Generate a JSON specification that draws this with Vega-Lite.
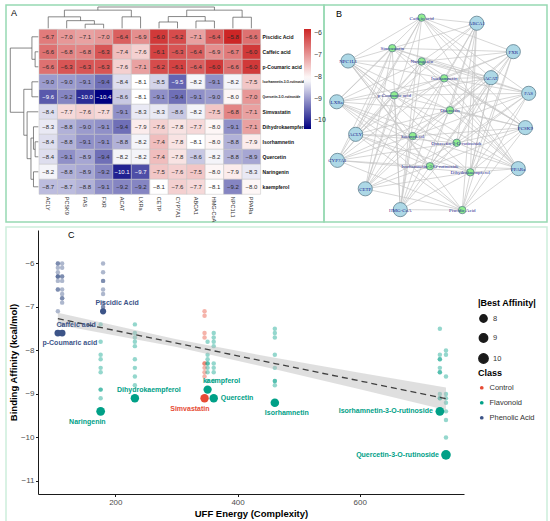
{
  "$schema": "https://vega.github.io/schema/vega-lite/v6.json",
  "padding": {"left": 5, "top": 4, "right": 0, "bottom": 0},
  "background": "white",
  "spacing": 3,
  "config": {
    "font": "Liberation Sans",
    "view": {"stroke": "#97d9b2", "strokeWidth": 1.5},
    "title": {"fontSize": 9, "fontWeight": "normal", "color": "#000", "anchor": "start", "frame": "group"}
  },
  "datasets": {
    "heat": [
      {"compound": "Piscidic Acid", "ACLY": -6.7, "PCSK9": -7.0, "FAS": -7.1, "FXR": -7.0, "ACAT": -6.4, "LXRa": -6.9, "CETP": -6.0, "CYP7A1": -6.2, "ABCA1": -7.1, "HMG-CoA": -6.4, "NPC1L1": -5.8, "PPARa": -6.6},
      {"compound": "Caffeic acid", "ACLY": -6.6, "PCSK9": -6.8, "FAS": -6.8, "FXR": -6.3, "ACAT": -7.4, "LXRa": -7.6, "CETP": -6.1, "CYP7A1": -6.3, "ABCA1": -6.4, "HMG-CoA": -6.9, "NPC1L1": -6.7, "PPARa": -6.0},
      {"compound": "p-Coumaric acid", "ACLY": -6.6, "PCSK9": -6.3, "FAS": -6.3, "FXR": -6.3, "ACAT": -7.6, "LXRa": -7.1, "CETP": -6.2, "CYP7A1": -6.1, "ABCA1": -6.4, "HMG-CoA": -6.0, "NPC1L1": -6.6, "PPARa": -6.0},
      {"compound": "Isorhamnetin-3-O-rutinoside", "ACLY": -9.0, "PCSK9": -9.0, "FAS": -9.1, "FXR": -9.4, "ACAT": -8.4, "LXRa": -8.1, "CETP": -8.5, "CYP7A1": -9.5, "ABCA1": -8.2, "HMG-CoA": -9.1, "NPC1L1": -8.2, "PPARa": -7.5},
      {"compound": "Quercetin-3-O-rutinoside", "ACLY": -9.6, "PCSK9": -9.2, "FAS": -10.0, "FXR": -10.4, "ACAT": -8.6, "LXRa": -8.1, "CETP": -9.1, "CYP7A1": -9.4, "ABCA1": -9.1, "HMG-CoA": -9.0, "NPC1L1": -8.0, "PPARa": -7.0},
      {"compound": "Simvastatin", "ACLY": -8.4, "PCSK9": -7.7, "FAS": -7.6, "FXR": -7.7, "ACAT": -9.1, "LXRa": -8.3, "CETP": -8.3, "CYP7A1": -8.6, "ABCA1": -8.2, "HMG-CoA": -7.5, "NPC1L1": -6.8, "PPARa": -7.1},
      {"compound": "Dihydrokaempferol", "ACLY": -8.3, "PCSK9": -8.8, "FAS": -9.0, "FXR": -9.1, "ACAT": -9.4, "LXRa": -7.9, "CETP": -7.6, "CYP7A1": -7.8, "ABCA1": -7.7, "HMG-CoA": -8.0, "NPC1L1": -9.1, "PPARa": -7.1},
      {"compound": "Isorhamnetin", "ACLY": -8.4, "PCSK9": -8.8, "FAS": -9.1, "FXR": -9.1, "ACAT": -8.8, "LXRa": -8.2, "CETP": -7.4, "CYP7A1": -7.8, "ABCA1": -8.1, "HMG-CoA": -8.0, "NPC1L1": -8.8, "PPARa": -7.9},
      {"compound": "Quercetin", "ACLY": -8.4, "PCSK9": -9.1, "FAS": -8.9, "FXR": -9.4, "ACAT": -8.2, "LXRa": -8.2, "CETP": -7.4, "CYP7A1": -7.8, "ABCA1": -8.6, "HMG-CoA": -8.2, "NPC1L1": -8.8, "PPARa": -8.9},
      {"compound": "Naringenin", "ACLY": -8.2, "PCSK9": -8.8, "FAS": -8.9, "FXR": -9.2, "ACAT": -10.1, "LXRa": -9.7, "CETP": -7.5, "CYP7A1": -7.6, "ABCA1": -7.5, "HMG-CoA": -8.0, "NPC1L1": -7.9, "PPARa": -8.3},
      {"compound": "kaempferol", "ACLY": -8.7, "PCSK9": -8.7, "FAS": -8.8, "FXR": -9.1, "ACAT": -9.2, "LXRa": -9.2, "CETP": -8.1, "CYP7A1": -7.6, "ABCA1": -7.7, "HMG-CoA": -8.1, "NPC1L1": -9.2, "PPARa": -8.0}
    ],
    "dendTop": [
      {"x": 2, "x2": 2, "y": 0, "y2": 4.3}, {"x": 3, "x2": 3, "y": 0, "y2": 4.3}, {"x": 2, "x2": 3, "y": 4.3, "y2": 4.3},
      {"x": 1, "x2": 1, "y": 0, "y2": 8}, {"x": 2.5, "x2": 2.5, "y": 4.3, "y2": 8}, {"x": 1, "x2": 2.5, "y": 8, "y2": 8},
      {"x": 0, "x2": 0, "y": 0, "y2": 12}, {"x": 1.75, "x2": 1.75, "y": 8, "y2": 12}, {"x": 0, "x2": 1.75, "y": 12, "y2": 12},
      {"x": 4, "x2": 4, "y": 0, "y2": 12}, {"x": 5, "x2": 5, "y": 0, "y2": 12}, {"x": 4, "x2": 5, "y": 12, "y2": 12},
      {"x": 0.875, "x2": 0.875, "y": 12, "y2": 19}, {"x": 4.5, "x2": 4.5, "y": 12, "y2": 19}, {"x": 0.875, "x2": 4.5, "y": 19, "y2": 19},
      {"x": 6, "x2": 6, "y": 0, "y2": 6.6}, {"x": 7, "x2": 7, "y": 0, "y2": 6.6}, {"x": 6, "x2": 7, "y": 6.6, "y2": 6.6},
      {"x": 8, "x2": 8, "y": 0, "y2": 7.6}, {"x": 9, "x2": 9, "y": 0, "y2": 7.6}, {"x": 8, "x2": 9, "y": 7.6, "y2": 7.6},
      {"x": 6.5, "x2": 6.5, "y": 6.6, "y2": 12.3}, {"x": 8.5, "x2": 8.5, "y": 7.6, "y2": 12.3}, {"x": 6.5, "x2": 8.5, "y": 12.3, "y2": 12.3},
      {"x": 10, "x2": 10, "y": 0, "y2": 11.6}, {"x": 11, "x2": 11, "y": 0, "y2": 11.6}, {"x": 10, "x2": 11, "y": 11.6, "y2": 11.6},
      {"x": 7.5, "x2": 7.5, "y": 12.3, "y2": 19}, {"x": 10.5, "x2": 10.5, "y": 11.6, "y2": 19}, {"x": 7.5, "x2": 10.5, "y": 19, "y2": 19},
      {"x": 2.6875, "x2": 2.6875, "y": 19, "y2": 22.3}, {"x": 9, "x2": 9, "y": 19, "y2": 22.3}, {"x": 2.6875, "x2": 9, "y": 22.3, "y2": 22.3}
    ],
    "dendLeft": [
      {"x": 0, "x2": 3.3, "y": 1, "y2": 1}, {"x": 0, "x2": 3.3, "y": 2, "y2": 2}, {"x": 3.3, "x2": 3.3, "y": 1, "y2": 2},
      {"x": 0, "x2": 6.6, "y": 0, "y2": 0}, {"x": 3.3, "x2": 6.6, "y": 1.5, "y2": 1.5}, {"x": 6.6, "x2": 6.6, "y": 0, "y2": 1.5},
      {"x": 0, "x2": 6.6, "y": 3, "y2": 3}, {"x": 0, "x2": 6.6, "y": 4, "y2": 4}, {"x": 6.6, "x2": 6.6, "y": 3, "y2": 4},
      {"x": 0, "x2": 3.3, "y": 7, "y2": 7}, {"x": 0, "x2": 3.3, "y": 8, "y2": 8}, {"x": 3.3, "x2": 3.3, "y": 7, "y2": 8},
      {"x": 0, "x2": 5, "y": 6, "y2": 6}, {"x": 3.3, "x2": 5, "y": 7.5, "y2": 7.5}, {"x": 5, "x2": 5, "y": 6, "y2": 7.5},
      {"x": 0, "x2": 5, "y": 9, "y2": 9}, {"x": 0, "x2": 5, "y": 10, "y2": 10}, {"x": 5, "x2": 5, "y": 9, "y2": 10},
      {"x": 5, "x2": 7.6, "y": 6.75, "y2": 6.75}, {"x": 5, "x2": 7.6, "y": 9.5, "y2": 9.5}, {"x": 7.6, "x2": 7.6, "y": 6.75, "y2": 9.5},
      {"x": 0, "x2": 11.6, "y": 5, "y2": 5}, {"x": 7.6, "x2": 11.6, "y": 8.125, "y2": 8.125}, {"x": 11.6, "x2": 11.6, "y": 5, "y2": 8.125},
      {"x": 6.6, "x2": 15, "y": 3.5, "y2": 3.5}, {"x": 11.6, "x2": 15, "y": 6.5625, "y2": 6.5625}, {"x": 15, "x2": 15, "y": 3.5, "y2": 6.5625},
      {"x": 6.6, "x2": 29, "y": 0.75, "y2": 0.75}, {"x": 15, "x2": 29, "y": 5.03125, "y2": 5.03125}, {"x": 29, "x2": 29, "y": 0.75, "y2": 5.03125}
    ],
    "nodes": [
      {"name": "ABCA1", "kind": "target", "x": 68.5, "y": 91.6},
      {"name": "FXR", "kind": "target", "x": 84.9, "y": 78.5},
      {"name": "ACAT", "kind": "target", "x": 74.9, "y": 66.5},
      {"name": "FAS", "kind": "target", "x": 91.8, "y": 59.3},
      {"name": "PCSK9", "kind": "target", "x": 90.3, "y": 43.5},
      {"name": "PPARa", "kind": "target", "x": 87.1, "y": 24.6},
      {"name": "NPC1L1", "kind": "target", "x": 10.8, "y": 74.2},
      {"name": "LXRa", "kind": "target", "x": 5.7, "y": 55.4},
      {"name": "ACLY", "kind": "target", "x": 14.2, "y": 40.4},
      {"name": "CYP7A1", "kind": "target", "x": 6.0, "y": 28.4},
      {"name": "CETP", "kind": "target", "x": 18.5, "y": 15.3},
      {"name": "HMG-CoA", "kind": "target", "x": 34.2, "y": 5.7},
      {"name": "Caffeic acid", "kind": "compound", "x": 43.8, "y": 94.2},
      {"name": "Simvastatin", "kind": "compound", "x": 30.6, "y": 80.1},
      {"name": "Naringenin", "kind": "compound", "x": 43.8, "y": 74.0},
      {"name": "Isorhamnetin", "kind": "compound", "x": 53.9, "y": 66.2},
      {"name": "p-Coumaric acid", "kind": "compound", "x": 31.5, "y": 58.4},
      {"name": "Quercetin", "kind": "compound", "x": 56.5, "y": 51.5},
      {"name": "kaempferol", "kind": "compound", "x": 39.8, "y": 39.6},
      {"name": "Quercetin-3-O-rutinoside", "kind": "compound", "x": 59.5, "y": 36.5},
      {"name": "Isorhamnetin-3-O-rutinoside", "kind": "compound", "x": 47.5, "y": 25.7},
      {"name": "Dihydrokaempferol", "kind": "compound", "x": 65.6, "y": 22.9},
      {"name": "Piscidic Acid", "kind": "compound", "x": 62.0, "y": 5.5}
    ],
    "pts": [
      {"compound": "p-Coumaric acid", "class": "Phenolic Acid", "uff": 106, "affinity": -6.6},
      {"compound": "p-Coumaric acid", "class": "Phenolic Acid", "uff": 106, "affinity": -6.3},
      {"compound": "p-Coumaric acid", "class": "Phenolic Acid", "uff": 106, "affinity": -6.3},
      {"compound": "p-Coumaric acid", "class": "Phenolic Acid", "uff": 106, "affinity": -6.3},
      {"compound": "p-Coumaric acid", "class": "Phenolic Acid", "uff": 106, "affinity": -7.6},
      {"compound": "p-Coumaric acid", "class": "Phenolic Acid", "uff": 106, "affinity": -7.1},
      {"compound": "p-Coumaric acid", "class": "Phenolic Acid", "uff": 106, "affinity": -6.2},
      {"compound": "p-Coumaric acid", "class": "Phenolic Acid", "uff": 106, "affinity": -6.1},
      {"compound": "p-Coumaric acid", "class": "Phenolic Acid", "uff": 106, "affinity": -6.4},
      {"compound": "p-Coumaric acid", "class": "Phenolic Acid", "uff": 106, "affinity": -6.0},
      {"compound": "p-Coumaric acid", "class": "Phenolic Acid", "uff": 106, "affinity": -6.6},
      {"compound": "p-Coumaric acid", "class": "Phenolic Acid", "uff": 106, "affinity": -6.0},
      {"compound": "Caffeic acid", "class": "Phenolic Acid", "uff": 113, "affinity": -6.6},
      {"compound": "Caffeic acid", "class": "Phenolic Acid", "uff": 113, "affinity": -6.8},
      {"compound": "Caffeic acid", "class": "Phenolic Acid", "uff": 113, "affinity": -6.8},
      {"compound": "Caffeic acid", "class": "Phenolic Acid", "uff": 113, "affinity": -6.3},
      {"compound": "Caffeic acid", "class": "Phenolic Acid", "uff": 113, "affinity": -7.4},
      {"compound": "Caffeic acid", "class": "Phenolic Acid", "uff": 113, "affinity": -7.6},
      {"compound": "Caffeic acid", "class": "Phenolic Acid", "uff": 113, "affinity": -6.1},
      {"compound": "Caffeic acid", "class": "Phenolic Acid", "uff": 113, "affinity": -6.3},
      {"compound": "Caffeic acid", "class": "Phenolic Acid", "uff": 113, "affinity": -6.4},
      {"compound": "Caffeic acid", "class": "Phenolic Acid", "uff": 113, "affinity": -6.9},
      {"compound": "Caffeic acid", "class": "Phenolic Acid", "uff": 113, "affinity": -6.7},
      {"compound": "Caffeic acid", "class": "Phenolic Acid", "uff": 113, "affinity": -6.0},
      {"compound": "Piscidic Acid", "class": "Phenolic Acid", "uff": 180, "affinity": -6.0},
      {"compound": "Piscidic Acid", "class": "Phenolic Acid", "uff": 180, "affinity": -6.2},
      {"compound": "Piscidic Acid", "class": "Phenolic Acid", "uff": 180, "affinity": -6.4},
      {"compound": "Piscidic Acid", "class": "Phenolic Acid", "uff": 180, "affinity": -6.4},
      {"compound": "Piscidic Acid", "class": "Phenolic Acid", "uff": 180, "affinity": -6.6},
      {"compound": "Piscidic Acid", "class": "Phenolic Acid", "uff": 180, "affinity": -6.7},
      {"compound": "Piscidic Acid", "class": "Phenolic Acid", "uff": 180, "affinity": -6.9},
      {"compound": "Piscidic Acid", "class": "Phenolic Acid", "uff": 180, "affinity": -7.0},
      {"compound": "Piscidic Acid", "class": "Phenolic Acid", "uff": 180, "affinity": -7.0},
      {"compound": "Piscidic Acid", "class": "Phenolic Acid", "uff": 180, "affinity": -7.1},
      {"compound": "Naringenin", "class": "Flavonoid", "uff": 176, "affinity": -7.4},
      {"compound": "Naringenin", "class": "Flavonoid", "uff": 176, "affinity": -7.8},
      {"compound": "Naringenin", "class": "Flavonoid", "uff": 176, "affinity": -8.1},
      {"compound": "Naringenin", "class": "Flavonoid", "uff": 176, "affinity": -8.2},
      {"compound": "Naringenin", "class": "Flavonoid", "uff": 176, "affinity": -8.4},
      {"compound": "Naringenin", "class": "Flavonoid", "uff": 176, "affinity": -8.5},
      {"compound": "Naringenin", "class": "Flavonoid", "uff": 176, "affinity": -8.9},
      {"compound": "Naringenin", "class": "Flavonoid", "uff": 176, "affinity": -8.9},
      {"compound": "Naringenin", "class": "Flavonoid", "uff": 176, "affinity": -9.1},
      {"compound": "Dihydrokaempferol", "class": "Flavonoid", "uff": 232, "affinity": -7.4},
      {"compound": "Dihydrokaempferol", "class": "Flavonoid", "uff": 232, "affinity": -7.6},
      {"compound": "Dihydrokaempferol", "class": "Flavonoid", "uff": 232, "affinity": -7.7},
      {"compound": "Dihydrokaempferol", "class": "Flavonoid", "uff": 232, "affinity": -7.8},
      {"compound": "Dihydrokaempferol", "class": "Flavonoid", "uff": 232, "affinity": -7.9},
      {"compound": "Dihydrokaempferol", "class": "Flavonoid", "uff": 232, "affinity": -8.2},
      {"compound": "Dihydrokaempferol", "class": "Flavonoid", "uff": 232, "affinity": -8.4},
      {"compound": "Dihydrokaempferol", "class": "Flavonoid", "uff": 232, "affinity": -8.6},
      {"compound": "Dihydrokaempferol", "class": "Flavonoid", "uff": 232, "affinity": -8.8},
      {"compound": "Simvastatin", "class": "Control", "uff": 346, "affinity": -7.1},
      {"compound": "Simvastatin", "class": "Control", "uff": 346, "affinity": -7.2},
      {"compound": "Simvastatin", "class": "Control", "uff": 346, "affinity": -7.6},
      {"compound": "Simvastatin", "class": "Control", "uff": 346, "affinity": -7.7},
      {"compound": "Simvastatin", "class": "Control", "uff": 346, "affinity": -8.3},
      {"compound": "Simvastatin", "class": "Control", "uff": 346, "affinity": -8.3},
      {"compound": "Simvastatin", "class": "Control", "uff": 346, "affinity": -8.4},
      {"compound": "Simvastatin", "class": "Control", "uff": 346, "affinity": -8.5},
      {"compound": "Simvastatin", "class": "Control", "uff": 346, "affinity": -8.6},
      {"compound": "kaempferol", "class": "Flavonoid", "uff": 351, "affinity": -7.8},
      {"compound": "kaempferol", "class": "Flavonoid", "uff": 351, "affinity": -8.1},
      {"compound": "kaempferol", "class": "Flavonoid", "uff": 351, "affinity": -8.2},
      {"compound": "kaempferol", "class": "Flavonoid", "uff": 351, "affinity": -8.3},
      {"compound": "kaempferol", "class": "Flavonoid", "uff": 351, "affinity": -8.3},
      {"compound": "kaempferol", "class": "Flavonoid", "uff": 351, "affinity": -8.4},
      {"compound": "kaempferol", "class": "Flavonoid", "uff": 351, "affinity": -8.5},
      {"compound": "kaempferol", "class": "Flavonoid", "uff": 351, "affinity": -8.7},
      {"compound": "Quercetin", "class": "Flavonoid", "uff": 361, "affinity": -7.6},
      {"compound": "Quercetin", "class": "Flavonoid", "uff": 361, "affinity": -7.7},
      {"compound": "Quercetin", "class": "Flavonoid", "uff": 361, "affinity": -7.8},
      {"compound": "Quercetin", "class": "Flavonoid", "uff": 361, "affinity": -7.9},
      {"compound": "Quercetin", "class": "Flavonoid", "uff": 361, "affinity": -8.3},
      {"compound": "Quercetin", "class": "Flavonoid", "uff": 361, "affinity": -8.4},
      {"compound": "Quercetin", "class": "Flavonoid", "uff": 361, "affinity": -8.5},
      {"compound": "Quercetin", "class": "Flavonoid", "uff": 361, "affinity": -8.7},
      {"compound": "Isorhamnetin", "class": "Flavonoid", "uff": 461, "affinity": -7.5},
      {"compound": "Isorhamnetin", "class": "Flavonoid", "uff": 461, "affinity": -7.6},
      {"compound": "Isorhamnetin", "class": "Flavonoid", "uff": 461, "affinity": -7.7},
      {"compound": "Isorhamnetin", "class": "Flavonoid", "uff": 461, "affinity": -8.1},
      {"compound": "Isorhamnetin", "class": "Flavonoid", "uff": 461, "affinity": -8.4},
      {"compound": "Isorhamnetin", "class": "Flavonoid", "uff": 461, "affinity": -8.7},
      {"compound": "Isorhamnetin", "class": "Flavonoid", "uff": 461, "affinity": -8.7},
      {"compound": "Isorhamnetin", "class": "Flavonoid", "uff": 461, "affinity": -8.8},
      {"compound": "Isorhamnetin-3-O-rutinoside", "class": "Flavonoid", "uff": 731, "affinity": -7.5},
      {"compound": "Isorhamnetin-3-O-rutinoside", "class": "Flavonoid", "uff": 731, "affinity": -8.1},
      {"compound": "Isorhamnetin-3-O-rutinoside", "class": "Flavonoid", "uff": 731, "affinity": -8.2},
      {"compound": "Isorhamnetin-3-O-rutinoside", "class": "Flavonoid", "uff": 731, "affinity": -8.2},
      {"compound": "Isorhamnetin-3-O-rutinoside", "class": "Flavonoid", "uff": 731, "affinity": -8.4},
      {"compound": "Isorhamnetin-3-O-rutinoside", "class": "Flavonoid", "uff": 731, "affinity": -8.5},
      {"compound": "Isorhamnetin-3-O-rutinoside", "class": "Flavonoid", "uff": 731, "affinity": -8.5},
      {"compound": "Isorhamnetin-3-O-rutinoside", "class": "Flavonoid", "uff": 731, "affinity": -9.0},
      {"compound": "Isorhamnetin-3-O-rutinoside", "class": "Flavonoid", "uff": 731, "affinity": -9.1},
      {"compound": "Isorhamnetin-3-O-rutinoside", "class": "Flavonoid", "uff": 731, "affinity": -9.1},
      {"compound": "Quercetin-3-O-rutinoside", "class": "Flavonoid", "uff": 741, "affinity": -8.0},
      {"compound": "Quercetin-3-O-rutinoside", "class": "Flavonoid", "uff": 741, "affinity": -8.1},
      {"compound": "Quercetin-3-O-rutinoside", "class": "Flavonoid", "uff": 741, "affinity": -8.6},
      {"compound": "Quercetin-3-O-rutinoside", "class": "Flavonoid", "uff": 741, "affinity": -9.0},
      {"compound": "Quercetin-3-O-rutinoside", "class": "Flavonoid", "uff": 741, "affinity": -9.1},
      {"compound": "Quercetin-3-O-rutinoside", "class": "Flavonoid", "uff": 741, "affinity": -9.2},
      {"compound": "Quercetin-3-O-rutinoside", "class": "Flavonoid", "uff": 741, "affinity": -9.4},
      {"compound": "Quercetin-3-O-rutinoside", "class": "Flavonoid", "uff": 741, "affinity": -9.6},
      {"compound": "Quercetin-3-O-rutinoside", "class": "Flavonoid", "uff": 741, "affinity": -10.0}
    ],
    "best": [
      {"compound": "p-Coumaric acid", "class": "Phenolic Acid", "uff": 106, "best": -7.6, "absBest": 7.6},
      {"compound": "Caffeic acid", "class": "Phenolic Acid", "uff": 113, "best": -7.6, "absBest": 7.6},
      {"compound": "Piscidic Acid", "class": "Phenolic Acid", "uff": 180, "best": -7.1, "absBest": 7.1},
      {"compound": "Naringenin", "class": "Flavonoid", "uff": 176, "best": -9.4, "absBest": 9.4},
      {"compound": "Dihydrokaempferol", "class": "Flavonoid", "uff": 232, "best": -9.1, "absBest": 9.1},
      {"compound": "Simvastatin", "class": "Control", "uff": 346, "best": -9.1, "absBest": 9.1},
      {"compound": "kaempferol", "class": "Flavonoid", "uff": 351, "best": -8.9, "absBest": 8.9},
      {"compound": "Quercetin", "class": "Flavonoid", "uff": 361, "best": -9.1, "absBest": 9.1},
      {"compound": "Isorhamnetin", "class": "Flavonoid", "uff": 461, "best": -9.2, "absBest": 9.2},
      {"compound": "Isorhamnetin-3-O-rutinoside", "class": "Flavonoid", "uff": 731, "best": -9.4, "absBest": 9.4},
      {"compound": "Quercetin-3-O-rutinoside", "class": "Flavonoid", "uff": 741, "best": -10.4, "absBest": 10.4}
    ],
    "fit": [
      {"uff": 106, "fit": -7.27, "lo": -7.41, "hi": -7.13},
      {"uff": 300, "fit": -7.83, "lo": -7.92, "hi": -7.74},
      {"uff": 461, "fit": -8.30, "lo": -8.43, "hi": -8.17},
      {"uff": 600, "fit": -8.70, "lo": -8.89, "hi": -8.51},
      {"uff": 741, "fit": -9.11, "lo": -9.37, "hi": -8.85}
    ]
  },
  "vconcat": [
    {
      "hconcat": [
        {
          "width": 318,
          "height": 217,
          "title": {"text": "A", "offset": -13, "dx": 5},
          "layer": [
            {
              "data": {"name": "heat"},
              "transform": [{"fold": ["ACLY", "PCSK9", "FAS", "FXR", "ACAT", "LXRa", "CETP", "CYP7A1", "ABCA1", "HMG-CoA", "NPC1L1", "PPARa"], "as": ["target", "value"]}],
              "mark": {"type": "rect", "stroke": "#c4c4c4", "strokeWidth": 0.5},
              "encoding": {
                "x": {"field": "target", "type": "nominal", "sort": ["ACLY", "PCSK9", "FAS", "FXR", "ACAT", "LXRa", "CETP", "CYP7A1", "ABCA1", "HMG-CoA", "NPC1L1", "PPARa"],
                      "scale": {"range": [33, 254.6], "paddingInner": 0, "paddingOuter": 0},
                      "axis": {"orient": "bottom", "offset": -27.7, "title": null, "labelAngle": 90, "labelAlign": "left", "labelBaseline": "middle", "labelFontSize": 5.5, "labelColor": "#333", "labelPadding": 2, "ticks": false, "domain": false}},
                "y": {"field": "compound", "type": "nominal", "sort": ["Piscidic Acid", "Caffeic acid", "p-Coumaric acid", "Isorhamnetin-3-O-rutinoside", "Quercetin-3-O-rutinoside", "Simvastatin", "Dihydrokaempferol", "Isorhamnetin", "Quercetin", "Naringenin", "kaempferol"],
                      "scale": {"range": [24.3, 189.3], "paddingInner": 0, "paddingOuter": 0},
                      "axis": {"orient": "right", "offset": -63.4, "title": null, "labelFontSize": {"condition": {"test": "length(datum.label) > 20", "value": 3.2}, "value": 5}, "labelFontWeight": "bold", "labelColor": "#111", "labelPadding": 1.5, "ticks": false, "domain": false}},
                "color": {"field": "value", "type": "quantitative",
                          "scale": {"domain": [-10.4, -8.1, -5.8], "range": ["#000080", "#ffffff", "#cd2626"], "interpolate": "rgb"},
                          "legend": {"orient": "none", "legendX": 298, "legendY": 24, "title": null, "direction": "vertical", "gradientLength": 100, "gradientThickness": 7, "values": [-10, -9, -8, -7, -6], "labelFontSize": 7, "labelColor": "#333", "gradientStrokeWidth": 0, "labelOffset": 3}}
              }
            },
            {
              "data": {"name": "heat"},
              "transform": [{"fold": ["ACLY", "PCSK9", "FAS", "FXR", "ACAT", "LXRa", "CETP", "CYP7A1", "ABCA1", "HMG-CoA", "NPC1L1", "PPARa"], "as": ["target", "value"]}],
              "mark": {"type": "text", "fontSize": 6},
              "encoding": {
                "x": {"field": "target", "type": "nominal", "sort": ["ACLY", "PCSK9", "FAS", "FXR", "ACAT", "LXRa", "CETP", "CYP7A1", "ABCA1", "HMG-CoA", "NPC1L1", "PPARa"],
                      "scale": {"range": [33, 254.6], "paddingInner": 0, "paddingOuter": 0}, "axis": null},
                "y": {"field": "compound", "type": "nominal", "sort": ["Piscidic Acid", "Caffeic acid", "p-Coumaric acid", "Isorhamnetin-3-O-rutinoside", "Quercetin-3-O-rutinoside", "Simvastatin", "Dihydrokaempferol", "Isorhamnetin", "Quercetin", "Naringenin", "kaempferol"],
                      "scale": {"range": [24.3, 189.3], "paddingInner": 0, "paddingOuter": 0}, "axis": null},
                "text": {"field": "value", "type": "quantitative", "format": ".1f"},
                "color": {"condition": {"test": "datum.value <= -9.5", "value": "#ffffff"}, "value": "#2a2a2a"}
              }
            },
            {
              "data": {"name": "dendTop"},
              "mark": {"type": "rule", "color": "#555555", "strokeWidth": 0.7},
              "encoding": {
                "x": {"field": "x", "type": "quantitative", "scale": {"domain": [-0.5, 11.5], "range": [33, 254.6], "nice": false, "zero": false}, "axis": null},
                "x2": {"field": "x2"},
                "y": {"field": "y", "type": "quantitative", "scale": {"domain": [0, 22.3], "range": [23.3, 2], "nice": false, "zero": false}, "axis": null},
                "y2": {"field": "y2"}
              }
            },
            {
              "data": {"name": "dendLeft"},
              "mark": {"type": "rule", "color": "#555555", "strokeWidth": 0.7},
              "encoding": {
                "x": {"field": "x", "type": "quantitative", "scale": {"domain": [0, 29], "range": [32.3, 4.3], "nice": false, "zero": false}, "axis": null},
                "x2": {"field": "x2"},
                "y": {"field": "y", "type": "quantitative", "scale": {"domain": [-0.5, 10.5], "range": [24.3, 189.3], "nice": false, "zero": false}, "axis": null},
                "y2": {"field": "y2"}
              }
            }
          ],
          "resolve": {"scale": {"x": "independent", "y": "independent"}}
        },
        {
          "width": 223,
          "height": 217,
          "title": {"text": "B", "offset": -14, "dx": 12},
          "layer": [
            {
              "data": {"name": "heat"},
              "transform": [
                {"fold": ["ACLY", "PCSK9", "FAS", "FXR", "ACAT", "LXRa", "CETP", "CYP7A1", "ABCA1", "HMG-CoA", "NPC1L1", "PPARa"], "as": ["target", "value"]},
                {"lookup": "compound", "from": {"data": {"name": "nodes"}, "key": "name", "fields": ["x", "y"]}, "as": ["cx", "cy"]},
                {"lookup": "target", "from": {"data": {"name": "nodes"}, "key": "name", "fields": ["x", "y"]}, "as": ["tx", "ty"]}
              ],
              "mark": {"type": "rule", "color": "#c4c4c4", "strokeWidth": 0.7},
              "encoding": {
                "x": {"field": "cx", "type": "quantitative", "scale": {"domain": [0, 100], "nice": false, "zero": false}, "axis": null},
                "y": {"field": "cy", "type": "quantitative", "scale": {"domain": [0, 100], "nice": false, "zero": false}, "axis": null},
                "x2": {"field": "tx"},
                "y2": {"field": "ty"}
              }
            },
            {
              "data": {"name": "nodes"},
              "mark": {"type": "point", "filled": true, "shape": "circle", "stroke": "#60808f", "strokeWidth": 0.8, "opacity": 1},
              "encoding": {
                "x": {"field": "x", "type": "quantitative"},
                "y": {"field": "y", "type": "quantitative"},
                "size": {"field": "kind", "type": "nominal", "scale": {"domain": ["target", "compound"], "range": [200, 55]}, "legend": null},
                "fill": {"field": "kind", "type": "nominal", "scale": {"domain": ["target", "compound"], "range": ["#add8e6", "#90ee90"]}, "legend": null}
              }
            },
            {
              "data": {"name": "nodes"},
              "mark": {"type": "text", "font": "Liberation Serif", "fontSize": 5, "color": "#1f1f8f"},
              "encoding": {
                "x": {"field": "x", "type": "quantitative"},
                "y": {"field": "y", "type": "quantitative"},
                "text": {"field": "name"}
              }
            }
          ]
        }
      ],
      "spacing": 0,
      "bounds": "flush"
    },
    {
      "width": 541,
      "height": 295,
      "view": {"stroke": "#cdeedc", "strokeWidth": 1.5},
      "title": {"text": "C", "offset": -12.5, "dx": 62},
      "layer": [
        {
          "data": {"name": "pts"},
          "mark": {"type": "circle", "size": 20, "opacity": 0.42},
          "encoding": {
            "x": {"field": "uff", "type": "quantitative", "scale": {"domain": [73.5, 770.5], "range": [32, 458], "nice": false, "zero": false},
                  "axis": {"title": "UFF Energy (Complexity)", "values": [200, 400, 600], "offset": -28, "grid": false, "domainColor": "#1a1a1a", "tickColor": "#1a1a1a", "tickSize": 2.5, "labelFontSize": 8, "labelColor": "#4d4d4d", "labelPadding": 1.5, "titleFontSize": 9.5, "titleFontWeight": "bold", "titleColor": "#000", "titlePadding": 2}},
            "y": {"field": "affinity", "type": "quantitative", "scale": {"domain": [-11.3, -5.23], "range": [267, 3], "nice": false, "zero": false},
                  "axis": {"title": "Binding Affinity (kcal/mol)", "values": [-11, -10, -9, -8, -7, -6], "offset": -32, "grid": false, "domainColor": "#1a1a1a", "tickColor": "#1a1a1a", "tickSize": 2.5, "labelFontSize": 8, "labelColor": "#4d4d4d", "labelPadding": 1.5, "titleFontSize": 9.5, "titleFontWeight": "bold", "titleColor": "#000", "titlePadding": 2}},
            "color": {"field": "class", "type": "nominal", "scale": {"domain": ["Control", "Flavonoid", "Phenolic Acid"], "range": ["#E64B35", "#00A087", "#3C5488"]},
                      "legend": {"orient": "none", "legendX": 472, "legendY": 142, "title": "Class", "titleFontSize": 9, "titleFontWeight": "bold", "titleColor": "#000", "labelFontSize": 7.5, "labelColor": "#333", "symbolType": "circle", "symbolSize": 14, "symbolOpacity": 1, "rowPadding": 6, "titlePadding": 6}}
          }
        },
        {
          "data": {"name": "fit"},
          "mark": {"type": "area", "color": "#b8b8b8", "opacity": 0.45},
          "encoding": {
            "x": {"field": "uff", "type": "quantitative"},
            "y": {"field": "lo", "type": "quantitative"},
            "y2": {"field": "hi"}
          }
        },
        {
          "data": {"name": "fit"},
          "mark": {"type": "line", "color": "#404040", "strokeWidth": 1.3, "strokeDash": [6, 4]},
          "encoding": {
            "x": {"field": "uff", "type": "quantitative"},
            "y": {"field": "fit", "type": "quantitative"}
          }
        },
        {
          "data": {"name": "best"},
          "mark": {"type": "circle", "opacity": 1},
          "encoding": {
            "x": {"field": "uff", "type": "quantitative"},
            "y": {"field": "best", "type": "quantitative"},
            "color": {"field": "class", "type": "nominal"},
            "size": {"field": "absBest", "type": "quantitative", "scale": {"domain": [7, 10.5], "range": [36, 95], "zero": false},
                     "legend": {"orient": "none", "legendX": 472, "legendY": 72, "title": "|Best Affinity|", "values": [8, 9, 10], "format": ".0f", "titleFontSize": 9, "titleFontWeight": "bold", "titleColor": "#000", "labelFontSize": 7.5, "labelColor": "#333", "symbolType": "circle", "symbolFillColor": "#1a1a1a", "symbolStrokeColor": "#1a1a1a", "symbolOpacity": 1, "rowPadding": 4, "titlePadding": 6}}
          }
        },
        {
          "data": {"name": "best"},
          "transform": [{"filter": {"field": "compound", "oneOf": ["Piscidic Acid", "Caffeic acid", "Dihydrokaempferol", "kaempferol"]}}],
          "mark": {"type": "text", "fontSize": 7, "fontWeight": "bold", "align": "center", "baseline": "middle", "dx": 14, "dy": -8.5},
          "encoding": {
            "x": {"field": "uff", "type": "quantitative"},
            "y": {"field": "best", "type": "quantitative"},
            "text": {"field": "compound"},
            "color": {"field": "class", "type": "nominal"}
          }
        },
        {
          "data": {"name": "best"},
          "transform": [{"filter": {"field": "compound", "oneOf": ["p-Coumaric acid", "Isorhamnetin"]}}],
          "mark": {"type": "text", "fontSize": 7, "fontWeight": "bold", "align": "center", "baseline": "middle", "dx": 12, "dy": 10},
          "encoding": {
            "x": {"field": "uff", "type": "quantitative"},
            "y": {"field": "best", "type": "quantitative"},
            "text": {"field": "compound"},
            "color": {"field": "class", "type": "nominal"}
          }
        },
        {
          "data": {"name": "best"},
          "transform": [{"filter": {"field": "compound", "oneOf": ["Naringenin", "Simvastatin"]}}],
          "mark": {"type": "text", "fontSize": 7, "fontWeight": "bold", "align": "right", "baseline": "middle", "dx": 5, "dy": 10.5},
          "encoding": {
            "x": {"field": "uff", "type": "quantitative"},
            "y": {"field": "best", "type": "quantitative"},
            "text": {"field": "compound"},
            "color": {"field": "class", "type": "nominal"}
          }
        },
        {
          "data": {"name": "best"},
          "transform": [{"filter": {"field": "compound", "oneOf": ["Quercetin"]}}],
          "mark": {"type": "text", "fontSize": 7, "fontWeight": "bold", "align": "left", "baseline": "middle", "dx": 7, "dy": 0},
          "encoding": {
            "x": {"field": "uff", "type": "quantitative"},
            "y": {"field": "best", "type": "quantitative"},
            "text": {"field": "compound"},
            "color": {"field": "class", "type": "nominal"}
          }
        },
        {
          "data": {"name": "best"},
          "transform": [{"filter": {"field": "compound", "oneOf": ["Isorhamnetin-3-O-rutinoside", "Quercetin-3-O-rutinoside"]}}],
          "mark": {"type": "text", "fontSize": 7, "fontWeight": "bold", "align": "right", "baseline": "middle", "dx": -7, "dy": 0},
          "encoding": {
            "x": {"field": "uff", "type": "quantitative"},
            "y": {"field": "best", "type": "quantitative"},
            "text": {"field": "compound"},
            "color": {"field": "class", "type": "nominal"}
          }
        }
      ]
    }
  ]
}
